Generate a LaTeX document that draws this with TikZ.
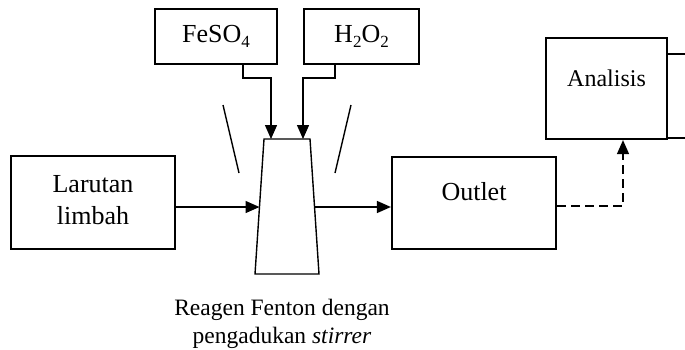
\documentclass[tikz,border=0pt]{standalone}
\usepackage{fontspec}
\setmainfont{Liberation Serif}
\usetikzlibrary{arrows.meta}
\newcommand\chemsub[1]{\raisebox{-0.22em}{\fontsize{17}{17}\selectfont #1}}
\tikzset{
  box/.style={draw, line width=2.2pt, rectangle, inner sep=0pt, align=center,
    font=\fontsize{26}{32}\selectfont},
  conn/.style={line width=1.4pt, -{Triangle[length=14pt,width=12pt]}},
  thin/.style={line width=1.4pt},
  dashconn/.style={conn, dash pattern=on 9pt off 5pt}
}
\begin{document}
\begin{tikzpicture}[x=1pt,y=-1pt]
\useasboundingbox (0,0) rectangle (685,349);
% boxes
\node[box, minimum width=164pt, minimum height=93pt] (lar) at (93,202.5) {};
\node[font=\fontsize{26}{32}\selectfont, align=center] at (93,200) {Larutan\\limbah};
\node[box, minimum width=164pt, minimum height=92pt] (out) at (474,203) {};
\node[font=\fontsize{26}{32}\selectfont] at (474,192) {Outlet};
\node[box, minimum width=121pt, minimum height=101pt] (ana) at (606.5,88.5) {};
\node[font=\fontsize{24}{28}\selectfont] at (606.5,78) {Analisis};
\node[box, minimum width=122pt, minimum height=55pt] (fe) at (216,36.5) {FeSO\chemsub{4}};
\node[box, minimum width=115pt, minimum height=55pt] (h2) at (361.5,36.5) {H\chemsub{2}O\chemsub{2}};
% mixer (trapezium)
\coordinate (tl) at (264,139);
\coordinate (tr) at (310,139);
\coordinate (br) at (319,274);
\coordinate (bl) at (255,274);
\draw[thin] (tl) -- (tr) -- (br) -- (bl) -- cycle;
\coordinate (mixL) at (259.5,207);
\coordinate (mixR) at (314.5,207);
\coordinate (inFe) at (271,139);
\coordinate (inH) at (303,139);
% splash lines
\coordinate (sl1) at (223,105); \coordinate (sl2) at (239,173);
\coordinate (sr1) at (351,105); \coordinate (sr2) at (335,173);
\draw[thin] (sl1) -- (sl2);
\draw[thin] (sr1) -- (sr2);
% connectors
\draw[conn] (fe.south -| 243,0) |- (271,78) -- (inFe);
\draw[conn] (h2.south -| 335,0) |- (303,78) -- (inH);
\draw[conn] (lar.east |- mixL) -- (mixL);
\draw[conn] (mixR) -- (out.west |- mixR);
\draw[dashconn] (out.east |- 0,206) -| (ana.south -| 623,0);
\coordinate (e1) at (685,54);
\coordinate (e2) at (685,138);
\draw[thin] (ana.east |- e1) -- (e1);
\draw[thin] (ana.east |- e2) -- (e2);
% caption
\node[font=\fontsize{23.5}{28}\selectfont, align=center, anchor=base] (cap) at (282,343)
  {Reagen Fenton dengan\\pengadukan \textit{stirrer}};
\end{tikzpicture}
\end{document}
